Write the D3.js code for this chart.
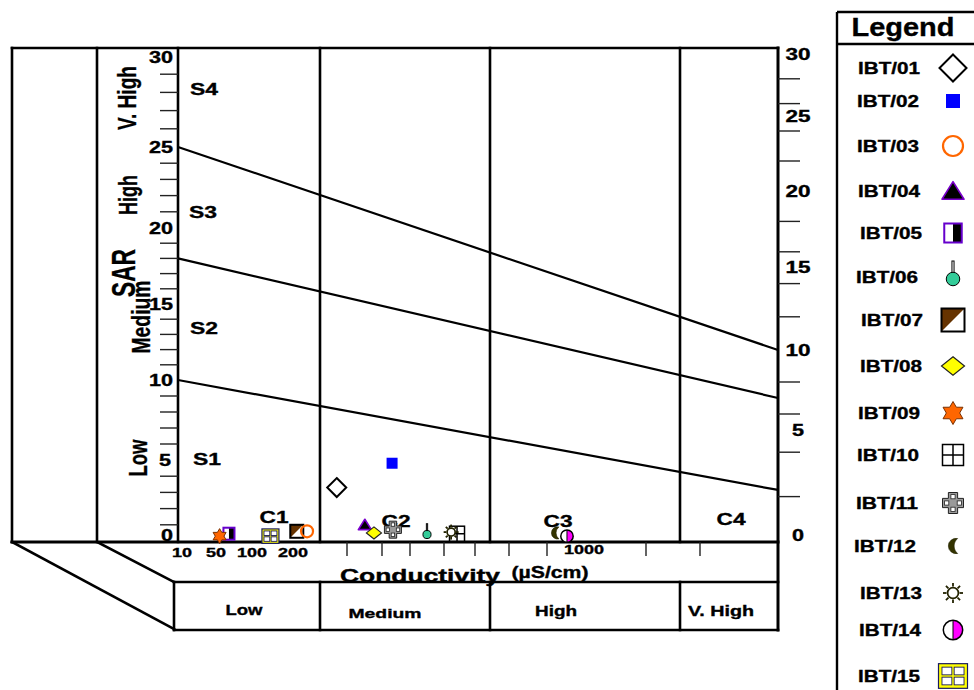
<!DOCTYPE html>
<html>
<head>
<meta charset="utf-8">
<script src="https://cdn.jsdelivr.net/npm/d3@7"></script>
<style>
  html, body { margin: 0; padding: 0; background: #fff; }
  svg { display: block; }
  text { font-family: "Liberation Sans", Arial, Helvetica, sans-serif; font-weight: bold; fill: #000;
         stroke: #000; stroke-width: 0.35px; }
</style>
</head>
<body>
<svg id="chart" width="974" height="690"></svg>
<script>
// ---- Data -------------------------------------------------------------
const samples = ["IBT/01","IBT/02","IBT/03","IBT/04","IBT/05","IBT/06","IBT/07","IBT/08",
                 "IBT/09","IBT/10","IBT/11","IBT/12","IBT/13","IBT/14","IBT/15"];
// Electrical conductivity, µS/cm
const conductivity = [281, 436, 226, 351, 68, 550, 207, 377, 55, 642, 439, 922, 623, 954, 145];
// Sodium adsorption ratio
const sarValues = [3.3, 4.8, 0.6, 1.0, 0.45, 0.4, 0.6, 0.5, 0.3, 0.45, 0.7, 0.5, 0.55, 0.3, 0.3];
const symbolTypes = ["diamondOpen","square","circleOpen","triangle","halfSquare","pin","diagSquare",
                     "diamondYellow","star","grid","cross","crescent","sun","halfCircle","gridYellow"];

// Axis ticks and labels
const sarTicks = [0, 5, 10, 15, 20, 25, 30];
const condLabels = [10, 50, 100, 200, 1000];
const condMinorTicks = [300, 400, 500, 600, 700, 800, 900, 2000, 3000];
const rightMinorTicks = [2, 4, 6, 8, 12, 14, 16, 18, 22, 24, 26, 28];

// Hazard classes
const salinityClasses = ["C1", "C2", "C3", "C4"];
const salinityLimits = [250, 750, 2250];
const salinityNames = ["Low", "Medium", "High", "V. High"];
const sodiumClasses = ["S1", "S2", "S3", "S4"];
const sodiumNames = ["Low", "Medium", "High", "V. High"];
// Sodium hazard boundaries: SAR where each line meets the left and right axes
const sodiumBoundLeft = [10, 18, 25];
const sodiumBoundRight = [2.3, 7, 10];

// ---- Layout -----------------------------------------------------------
const svg = d3.select("#chart");
const plotLeft = 178, plotRight = 778, plotTop = 48, plotBottom = 542;

// Conductivity axis is drawn as a stretched schematic log axis
const x = d3.scaleLinear()
  .domain([10, 50, 100, 200, 250, 300, 400, 500, 600, 700, 750, 800, 900, 1000, 2000, 2250, 3000, 5000])
  .range([182, 216, 252, 293, 320, 347, 382, 410, 444, 475, 490, 509, 547, 584, 646, 680, 700, plotRight]);
// Left and right SAR axes
const yL = d3.scaleLinear().domain(sarTicks).range([541, 460, 380, 304, 228, 147, 56]);
const yR = d3.scaleLinear().domain(sarTicks).range([541, 430, 350, 267, 191, 116, 54]);

function line(x1, y1, x2, y2, w = 2.6) {
  svg.append("line").attr("x1", x1).attr("y1", y1).attr("x2", x2).attr("y2", y2)
    .attr("stroke", "#000").attr("stroke-width", w).attr("stroke-linecap", "square");
}

function label(parent, o) {
  const t = parent.append("text")
    .attr("transform", `translate(${o.x},${o.y}) rotate(${o.rotate || 0})`)
    .attr("text-anchor", o.anchor || "middle")
    .attr("dominant-baseline", "central")
    .attr("font-size", o.size)
    .text(o.text);
  if (o.width) t.attr("textLength", o.width).attr("lengthAdjust", "spacingAndGlyphs");
  return t;
}

// ---- Frame ------------------------------------------------------------
line(12, plotTop, plotRight, plotTop);
line(12, plotTop, 12, plotBottom);
line(97, plotTop, 97, plotBottom);
line(plotLeft, plotTop, plotLeft, plotBottom);
line(plotRight, plotTop, plotRight, 630, 3);
line(12, plotBottom, plotRight, plotBottom, 3);
salinityLimits.forEach(v => line(x(v), plotTop, x(v), plotBottom));

// perspective base and class table
line(12, plotBottom, 174, 629);
line(97, plotBottom, 174, 582);
line(174, 582, plotRight, 582);
line(174, 630, plotRight, 630);
line(174, 582, 174, 630);
salinityLimits.forEach(v => line(x(v), 582, x(v), 630));
const tableLabel = [
  { cx: 244, size: 15, width: 37, dy: 609 },
  { cx: 385, size: 13, width: 73, dy: 613 },
  { cx: 556, size: 14, width: 42, dy: 611 },
  { cx: 721, size: 14, width: 66, dy: 611 }
];
salinityNames.forEach((n, i) => {
  const t = tableLabel[i];
  label(svg, { x: t.cx, y: t.dy, text: n, size: t.size, width: t.width });
});

// ---- Sodium hazard boundaries -----------------------------------------
sodiumBoundLeft.forEach((v, i) => {
  svg.append("line")
    .attr("x1", plotLeft).attr("y1", yL(v))
    .attr("x2", plotRight).attr("y2", yR(sodiumBoundRight[i]))
    .attr("stroke", "#000").attr("stroke-width", 2.2);
});

// ---- Left SAR axis ----------------------------------------------------
d3.range(1, 30).filter(v => v % 5 !== 0).forEach(v => {
  svg.append("line").attr("x1", 160).attr("x2", plotLeft).attr("y1", yL(v)).attr("y2", yL(v))
    .attr("stroke", "#222").attr("stroke-width", 1.4);
});
sarTicks.forEach(v => {
  label(svg, { x: v === 5 ? 171 : 173, y: yL(v) - (v === 0 ? 6 : (v === 30 ? -1 : 0)), text: v,
    size: 16, width: v < 10 ? 12 : 24, anchor: "end" });
});

// ---- Right SAR axis ---------------------------------------------------
rightMinorTicks.forEach(v => {
  svg.append("line").attr("x1", plotRight).attr("x2", 800).attr("y1", yR(v)).attr("y2", yR(v))
    .attr("stroke", "#222").attr("stroke-width", 1.4);
});
sarTicks.forEach(v => {
  label(svg, { x: 798, y: yR(v) - (v === 0 ? 6 : 0), text: v, size: 16, width: v < 10 ? 12 : 25 });
});

// ---- Conductivity axis ------------------------------------------------
condMinorTicks.forEach(v => {
  svg.append("line").attr("x1", x(v)).attr("x2", x(v)).attr("y1", plotBottom).attr("y2", 556)
    .attr("stroke", "#222").attr("stroke-width", 1.4);
});
condLabels.forEach(v => {
  const s = String(v);
  label(svg, { x: x(v), y: v === 1000 ? 549 : 552, text: s, size: 13, width: s.length * 10 });
});
label(svg, { x: 420, y: 576, text: "Conductivity", size: 18, width: 160 });
label(svg, { x: 550, y: 572, text: "(µS/cm)", size: 16, width: 77 });

// ---- Left panel labels ------------------------------------------------
const sideLabels = [
  { text: "V. High", x: 127, y: 98, size: 25, width: 64 },
  { text: "High", x: 128, y: 195, size: 25, width: 40 },
  { text: "SAR", x: 123, y: 273, size: 34, width: 48 },
  { text: "Medium", x: 141, y: 317, size: 25, width: 73 },
  { text: "Low", x: 138, y: 458, size: 25, width: 37 }
];
sideLabels.forEach(d => label(svg, Object.assign({ rotate: -90 }, d)));

// class labels inside the plot
const sodiumLabelPos = [[207, 459], [204, 328], [203, 212], [204, 89]];
sodiumClasses.forEach((c, i) => label(svg, { x: sodiumLabelPos[i][0], y: sodiumLabelPos[i][1], text: c, size: 16, width: 28 }));
const salinityLabelPos = [[274, 517], [396, 521], [558, 521], [731, 519]];
salinityClasses.forEach((c, i) => label(svg, { x: salinityLabelPos[i][0], y: salinityLabelPos[i][1], text: c, size: 17, width: 29 }));

// ---- Symbols ----------------------------------------------------------
function hexagram(r) {
  const pts = d3.range(12).map(k => {
    const a = -Math.PI / 2 + k * Math.PI / 6;
    const rr = k % 2 === 0 ? r : r * 0.58;
    return [rr * Math.cos(a), rr * Math.sin(a)];
  });
  return "M" + pts.map(p => p.join(",")).join("L") + "Z";
}

function drawSymbol(g, type, s) {
  const h = s / 2;
  switch (type) {
    case "diamondOpen":
      g.append("path").attr("d", `M0,${-h}L${h},0L0,${h}L${-h},0Z`)
        .attr("fill", "#fff").attr("stroke", "#000").attr("stroke-width", 2);
      break;
    case "square":
      g.append("rect").attr("x", -h).attr("y", -h).attr("width", s).attr("height", s).attr("fill", "#0000ff");
      break;
    case "circleOpen":
      g.append("circle").attr("r", h - 1).attr("fill", "none").attr("stroke", "#ff6600").attr("stroke-width", 2.2);
      break;
    case "triangle":
      g.append("path").attr("d", `M0,${-h * 0.85}L${h},${h * 0.75}L${-h},${h * 0.75}Z`)
        .attr("fill", "#000").attr("stroke", "#7a00cc").attr("stroke-width", 1.6).attr("stroke-linejoin", "round");
      break;
    case "halfSquare": {
      const w = s * 0.92;
      g.append("rect").attr("x", -w / 2).attr("y", -h).attr("width", w / 2).attr("height", s).attr("fill", "#fff");
      g.append("rect").attr("x", 0).attr("y", -h).attr("width", w / 2).attr("height", s).attr("fill", "#000");
      g.append("rect").attr("x", -w / 2).attr("y", -h).attr("width", w).attr("height", s)
        .attr("fill", "none").attr("stroke", "#6600cc").attr("stroke-width", 2);
      break;
    }
    case "pin": {
      const r = h * 0.9;
      g.append("rect").attr("x", -s * 0.07).attr("y", -r - s * 0.75).attr("width", s * 0.14).attr("height", s * 0.75 + 1)
        .attr("fill", "#fff").attr("stroke", "#000").attr("stroke-width", 1);
      g.append("circle").attr("r", r).attr("fill", "#33cc99").attr("stroke", "#000").attr("stroke-width", 1);
      break;
    }
    case "diagSquare":
      g.append("rect").attr("x", -h).attr("y", -h).attr("width", s).attr("height", s).attr("fill", "#fff");
      g.append("path").attr("d", `M${-h},${-h}L${h},${-h}L${-h},${h}Z`).attr("fill", "#663300");
      g.append("rect").attr("x", -h).attr("y", -h).attr("width", s).attr("height", s)
        .attr("fill", "none").attr("stroke", "#000").attr("stroke-width", 2);
      break;
    case "diamondYellow": {
      const v = h * 0.8;
      g.append("path").attr("d", `M0,${-v}L${h},0L0,${v}L${-h},0Z`)
        .attr("fill", "#ffff00").attr("stroke", "#222").attr("stroke-width", 1.2);
      break;
    }
    case "star":
      g.append("path").attr("d", hexagram(h)).attr("fill", "#ff6600").attr("stroke", "#7a3000").attr("stroke-width", 1);
      break;
    case "grid":
      g.append("rect").attr("x", -h).attr("y", -h).attr("width", s).attr("height", s)
        .attr("fill", "#fff").attr("stroke", "#000").attr("stroke-width", 1.5);
      g.append("path").attr("d", `M0,${-h}V${h}M${-h},0H${h}`).attr("stroke", "#000").attr("stroke-width", 1.5);
      break;
    case "cross": {
      const a = s * 0.22;
      g.append("path")
        .attr("d", `M${-a},${-h}H${a}V${-a}H${h}V${a}H${a}V${h}H${-a}V${a}H${-h}V${-a}H${-a}Z`)
        .attr("fill", "#9a9a9a").attr("stroke", "#222").attr("stroke-width", 1);
      const q = s * 0.2, o = s * 0.3;
      [[0, -o], [0, o], [-o, 0], [o, 0]].forEach(p => {
        g.append("rect").attr("x", p[0] - q / 2).attr("y", p[1] - q / 2).attr("width", q).attr("height", q)
          .attr("fill", "#fff").attr("stroke", "#222").attr("stroke-width", 0.8);
      });
      break;
    }
    case "crescent": {
      // left-facing crescent: outer arc bulges left, inner arc cuts it back
      const c = h, w = s * 0.62, wi = w * 0.38;
      const r1 = (c * c + w * w) / (2 * w), r2 = (c * c + wi * wi) / (2 * wi);
      const tx = w * 0.5;
      g.append("path")
        .attr("d", `M${tx},${-c}A${r1},${r1} 0 ${w > c ? 1 : 0} 0 ${tx},${c}A${r2},${r2} 0 0 1 ${tx},${-c}Z`)
        .attr("fill", "#333300").attr("stroke", "#222200").attr("stroke-width", 0.6);
      break;
    }
    case "sun": {
      const r = s * 0.27;
      d3.range(8).forEach(k => {
        const a = k * Math.PI / 4;
        g.append("line").attr("x1", r * 1.2 * Math.cos(a)).attr("y1", r * 1.2 * Math.sin(a))
          .attr("x2", h * Math.cos(a)).attr("y2", h * Math.sin(a))
          .attr("stroke", "#222200").attr("stroke-width", 1.8);
      });
      g.append("circle").attr("r", r).attr("fill", "#fff").attr("stroke", "#222200").attr("stroke-width", 1.7);
      break;
    }
    case "halfCircle": {
      const r = h - 0.8;
      g.append("path").attr("d", `M0,${-r}A${r},${r} 0 0 1 0,${r}Z`).attr("fill", "#ff00ff");
      g.append("path").attr("d", `M0,${-r}A${r},${r} 0 0 0 0,${r}Z`).attr("fill", "#fff");
      g.append("circle").attr("r", r).attr("fill", "none").attr("stroke", "#000").attr("stroke-width", 1.5);
      g.append("line").attr("y1", -r).attr("y2", r).attr("stroke", "#000").attr("stroke-width", 1);
      break;
    }
    case "gridYellow": {
      const hh = h * 0.85, p = s * 0.12, gap = s * 0.08;
      g.append("rect").attr("x", -h).attr("y", -hh).attr("width", s).attr("height", hh * 2)
        .attr("fill", "#ffff00").attr("stroke", "#1a1a60").attr("stroke-width", 1.2);
      const cw = (s - 2 * p - gap) / 2, ch = (hh * 2 - 2 * p - gap) / 2;
      [[0, 0], [1, 0], [0, 1], [1, 1]].forEach(([i, j]) => {
        g.append("rect").attr("x", -h + p + i * (cw + gap)).attr("y", -hh + p + j * (ch + gap))
          .attr("width", cw).attr("height", ch)
          .attr("fill", "#fff").attr("stroke", "#1a1a60").attr("stroke-width", 0.9);
      });
      break;
    }
  }
}

// marker sizes in the plot and in the legend
const plotSize = { diamondOpen: 19, square: 11, circleOpen: 14, triangle: 13, halfSquare: 12, pin: 9,
  diagSquare: 13, diamondYellow: 15, star: 15, grid: 15, cross: 17, crescent: 12, sun: 15,
  halfCircle: 14, gridYellow: 17 };
const legendSize = { diamondOpen: 27, square: 14, circleOpen: 22, triangle: 22, halfSquare: 19, pin: 15,
  diagSquare: 23, diamondYellow: 23, star: 23, grid: 21, cross: 21, crescent: 15, sun: 20,
  halfCircle: 21, gridYellow: 29 };

// ---- Sample points ----------------------------------------------------
const points = samples.map((s, i) => ({ id: s, ec: conductivity[i], sar: sarValues[i], type: symbolTypes[i] }));
// open circle is drawn over its neighbour
const drawOrder = [0, 1, 3, 4, 5, 6, 2, 7, 8, 9, 10, 11, 12, 13, 14];
svg.append("g").attr("class", "points")
  .selectAll("g").data(drawOrder.map(k => points[k])).join("g")
  .attr("transform", d => `translate(${x(d.ec)},${yL(d.sar)})`)
  .each(function (d) { drawSymbol(d3.select(this), d.type, plotSize[d.type]); });

// ---- Legend -----------------------------------------------------------
const lg = svg.append("g").attr("class", "legend");
lg.append("line").attr("x1", 837).attr("x2", 974).attr("y1", 12).attr("y2", 12).attr("stroke", "#000").attr("stroke-width", 2.4);
lg.append("line").attr("x1", 837).attr("x2", 837).attr("y1", 12).attr("y2", 690).attr("stroke", "#000").attr("stroke-width", 2.4);
lg.append("line").attr("x1", 837).attr("x2", 974).attr("y1", 44).attr("y2", 44).attr("stroke", "#000").attr("stroke-width", 2.4);
label(lg, { x: 903, y: 27, text: "Legend", size: 25, width: 103 });

const legendRowY = [68, 101, 146, 191, 233, 277, 320, 366, 413, 455, 503, 546, 593, 630, 676];
const legendLabelX = [889, 888, 888, 889, 891, 887, 892, 891, 889, 888, 887, 885, 891, 890, 889];
const rows = lg.selectAll("g.row").data(points).join("g").attr("class", "row");
rows.each(function (d, i) {
  const g = d3.select(this);
  label(g, { x: legendLabelX[i], y: legendRowY[i], text: d.id, size: 16, width: 62 });
  const sg = g.append("g").attr("transform", `translate(953,${legendRowY[i] + (d.type === "pin" ? 2 : 0)})`);
  drawSymbol(sg, d.type, legendSize[d.type]);
});
</script>
</body>
</html>
